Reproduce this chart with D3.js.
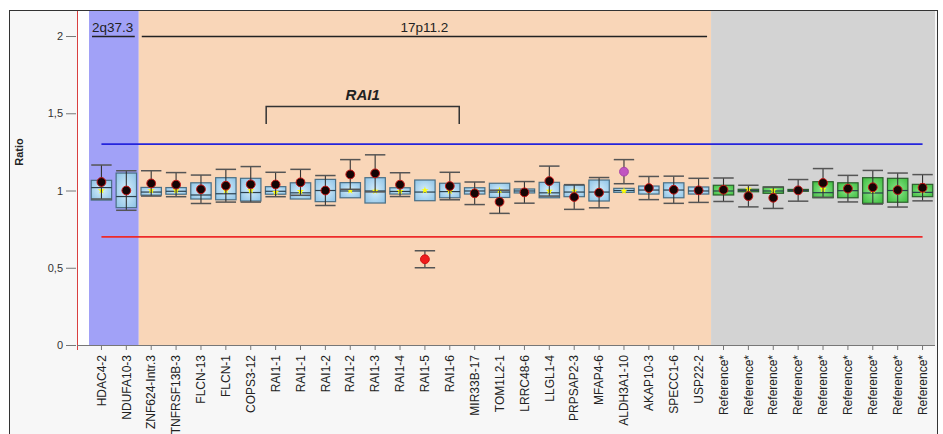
<!DOCTYPE html>
<html>
<head>
<meta charset="utf-8">
<script src="https://cdn.jsdelivr.net/npm/d3@7"></script>
<style>
  html, body { margin: 0; padding: 0; background: #fff; }
  svg { display: block; font-family: "Liberation Sans", Arial, sans-serif; }
</style>
</head>
<body>
<div id="chart"></div>
<script>
// probe names, left to right
const categories = [
  "HDAC4-2", "NDUFA10-3", "ZNF624-Intr.3", "TNFRSF13B-3", "FLCN-13", "FLCN-1", "COPS3-12",
  "RAI1-1", "RAI1-1", "RAI1-2", "RAI1-2", "RAI1-3", "RAI1-4", "RAI1-5", "RAI1-6",
  "MIR33B-17", "TOM1L2-1", "LRRC48-6", "LLGL1-4", "PRPSAP2-3", "MFAP4-6", "ALDH3A1-10",
  "AKAP10-3", "SPECC1-6", "USP22-2",
  "Reference*", "Reference*", "Reference*", "Reference*", "Reference*", "Reference*",
  "Reference*", "Reference*", "Reference*"
];

// patient ratio (dot) and its +/- error bar
const ratio = [1.055, 1.0, 1.046, 1.038, 1.008, 1.031, 1.040, 1.039, 1.053, 1.0, 1.104, 1.111, 1.038, 0.555, 1.029,
  0.982, 0.927, 0.988, 1.061, 0.958, 0.986, 1.122, 1.016, 1.005, 1.001,
  1.005, 0.964, 0.953, 1.001, 1.049, 1.012, 1.021, 1.003, 1.018];
const ratioErr = [0.11, 0.128, 0.082, 0.078, 0.092, 0.106, 0.115, 0.079, 0.084, 0.097, 0.096, 0.12, 0.077, 0.055, 0.089,
  0.073, 0.075, 0.070, 0.097, 0.080, 0.098, 0.078, 0.075, 0.088, 0.078,
  0.076, 0.070, 0.069, 0.070, 0.093, 0.086, 0.109, 0.110, 0.085];

// control distribution (box) and control mean (yellow)
const q1 = [0.938, 0.889, 0.97, 0.976, 0.945, 0.94, 0.932, 0.976, 0.945, 0.928, 0.953, 0.919, 0.977, 0.934, 0.953,
  0.977, 0.955, 0.984, 0.953, 0.96, 0.932, 0.988, 0.977, 0.953, 0.977,
  0.971, 0.992, 0.982, 0.995, 0.953, 0.953, 0.917, 0.924, 0.96];
const median = [1.019, 0.961, 0.99, 0.995, 0.971, 0.979, 0.987, 0.995, 0.985, 1.0, 0.997, 0.997, 0.994, 0.990, 0.993,
  0.997, 0.99, 0.997, 0.985, 0.99, 0.99, 1.0, 1.003, 1.003, 0.997,
  0.997, 1.0, 0.997, 1.0, 0.986, 0.999, 0.984, 1.0, 0.988];
const q3 = [1.066, 1.113, 1.02, 1.019, 1.05, 1.083, 1.079, 1.025, 1.05, 1.072, 1.051, 1.083, 1.018, 1.068, 1.047,
  1.018, 1.047, 1.010, 1.053, 1.034, 1.068, 1.014, 1.029, 1.050, 1.023,
  1.034, 1.008, 1.023, 1.007, 1.057, 1.050, 1.083, 1.079, 1.040];
const ctrlMean = [1.0, 1.0, 1.0, 1.0, 1.0, 1.0, 1.0, 0.99, 0.995, 1.0, 1.0, 0.997, 0.996, 1.001, 0.996,
  0.999, 1.0, 1.0, 0.997, 0.998, 1.0, 0.997, 1.0, 1.0, 1.0,
  1.0, 1.01, 1.0, 1.0, 1.008, 1.0, 1.0, 1.0, 1.0];

// dot status: n = normal, del = deletion, up = raised
const status = ["n", "n", "n", "n", "n", "n", "n", "n", "n", "n", "n", "n", "n", "del", "n",
  "n", "n", "n", "n", "n", "n", "up", "n", "n", "n",
  "n", "n", "n", "n", "n", "n", "n", "n", "n"];

// chromosome regions (index ranges into categories)
const regionNames = ["2q37.3", "17p11.2", ""];
const regionStart = [0, 2, 25];
const regionEnd = [1, 24, 33];

const thresholds = [1.3, 0.7];
const yTicks = [0, 0.5, 1, 1.5, 2];

// gene bracket
const geneName = "RAI1";
const geneStart = 7;
const geneEnd = 14;

const W = 943, H = 434;
const plot = {left: 77, right: 935, top: 11, bottom: 345};

const svg = d3.select("#chart").append("svg")
  .attr("width", W)
  .attr("height", H);

const defs = svg.append("defs");
const gradBlue = defs.append("radialGradient").attr("id", "gBlue").attr("r", "0.7");
gradBlue.append("stop").attr("offset", "0%").attr("stop-color", "#d6eefb");
gradBlue.append("stop").attr("offset", "100%").attr("stop-color", "#8cc2e6");
const gradGreen = defs.append("radialGradient").attr("id", "gGreen").attr("r", "0.7");
gradGreen.append("stop").attr("offset", "0%").attr("stop-color", "#8fe78f");
gradGreen.append("stop").attr("offset", "100%").attr("stop-color", "#3cbc3c");

// frame
svg.append("rect")
  .attr("x", 9.5).attr("y", 10.5)
  .attr("width", 928).attr("height", 440)
  .attr("fill", "#f7f7f7")
  .attr("stroke", "#333");

svg.append("rect")
  .attr("x", plot.left).attr("y", plot.top)
  .attr("width", plot.right - plot.left).attr("height", plot.bottom - plot.top)
  .attr("fill", "#fff");

const x = d3.scaleBand()
  .domain(d3.range(categories.length))
  .range([89, plot.right])
  .padding(0);

const y = d3.scaleLinear()
  .domain([0, 2.162])
  .range([plot.bottom, plot.top]);

const bw = x.bandwidth();
const cx = i => x(i) + bw / 2;
const boxW = bw * 0.82;

const regionColors = ["#a1a1f7", "#f9d6b8", "#d3d3d3"];

// region backgrounds
svg.selectAll(".region")
  .data(regionNames)
  .enter().append("rect")
    .attr("class", "region")
    .attr("x", (d, i) => x(regionStart[i]))
    .attr("width", (d, i) => x(regionEnd[i]) + bw - x(regionStart[i]))
    .attr("y", plot.top)
    .attr("height", plot.bottom - plot.top)
    .attr("fill", (d, i) => regionColors[i]);

// region labels + lines
regionNames.forEach((name, i) => {
  if (!name) return;
  const x0 = x(regionStart[i]) + 3;
  const x1 = x(regionEnd[i]) + bw - 4;
  svg.append("line")
    .attr("x1", x0).attr("x2", x1)
    .attr("y1", 36.5).attr("y2", 36.5)
    .attr("stroke", "#222")
    .attr("stroke-width", 1.5);
  svg.append("text")
    .attr("x", i === 0 ? x0 : (x0 + x1) / 2)
    .attr("y", 32)
    .attr("text-anchor", i === 0 ? "start" : "middle")
    .attr("font-size", 13.5)
    .attr("fill", "#222")
    .text(name);
});

// gene bracket
const gx0 = x(geneStart) + 3, gx1 = x(geneEnd) + bw - 3;
svg.append("path")
  .attr("d", `M${gx0},124V106.5H${gx1}V124`)
  .attr("fill", "none")
  .attr("stroke", "#333")
  .attr("stroke-width", 1.5);
svg.append("text")
  .attr("x", (gx0 + gx1) / 2)
  .attr("y", 100)
  .attr("text-anchor", "middle")
  .attr("font-size", 15)
  .attr("font-weight", "bold")
  .attr("font-style", "italic")
  .attr("fill", "#222")
  .text(geneName);

// threshold lines
svg.selectAll(".thr")
  .data(thresholds)
  .enter().append("line")
    .attr("class", "thr")
    .attr("x1", cx(0)).attr("x2", cx(categories.length - 1))
    .attr("y1", d => y(d)).attr("y2", d => y(d))
    .attr("stroke", d => d > 1 ? "#2424dc" : "#ee2a2a")
    .attr("stroke-width", 1.6);

// boxes
const g = svg.selectAll(".probe")
  .data(categories)
  .enter().append("g")
    .attr("class", "probe");

g.append("rect")
  .attr("x", (d, i) => cx(i) - boxW / 2)
  .attr("width", boxW)
  .attr("y", (d, i) => y(q3[i]))
  .attr("height", (d, i) => Math.max(1, y(q1[i]) - y(q3[i])))
  .attr("fill", (d, i) => i >= regionStart[2] ? "url(#gGreen)" : "url(#gBlue)")
  .attr("stroke", (d, i) => i >= regionStart[2] ? "#2d5e2d" : "#4b6f84")
  .attr("stroke-width", 1.2);

g.append("line")
  .attr("x1", (d, i) => cx(i) - boxW / 2).attr("x2", (d, i) => cx(i) + boxW / 2)
  .attr("y1", (d, i) => y(median[i])).attr("y2", (d, i) => y(median[i]))
  .attr("stroke", "#2a3f4c")
  .attr("stroke-width", 1.2);

g.append("path")
  .attr("d", d3.symbol().type(d3.symbolStar).size(16))
  .attr("transform", (d, i) => `translate(${cx(i)},${y(ctrlMean[i])})`)
  .attr("fill", "#ffff00");

// error bars
g.append("line")
  .attr("x1", (d, i) => cx(i)).attr("x2", (d, i) => cx(i))
  .attr("y1", (d, i) => y(ratio[i] + ratioErr[i]))
  .attr("y2", (d, i) => y(ratio[i] - ratioErr[i]))
  .attr("stroke", "#333")
  .attr("stroke-width", 1.1);

[1, -1].forEach(s => {
  g.append("line")
    .attr("x1", (d, i) => cx(i) - boxW / 2).attr("x2", (d, i) => cx(i) + boxW / 2)
    .attr("y1", (d, i) => y(ratio[i] + s * ratioErr[i]))
    .attr("y2", (d, i) => y(ratio[i] + s * ratioErr[i]))
    .attr("stroke", "#555")
    .attr("stroke-width", 1.5);
});

g.append("circle")
  .attr("cx", (d, i) => cx(i))
  .attr("cy", (d, i) => y(ratio[i]))
  .attr("r", 4.4)
  .attr("fill", (d, i) => status[i] === "del" ? "#ee1c1c" : status[i] === "up" ? "#c155c1" : "#150505")
  .attr("stroke", (d, i) => status[i] === "del" ? "#d01010" : status[i] === "up" ? "#a844a8" : "#c81818")
  .attr("stroke-width", 1);

// y axis
const yAxis = svg.append("g")
  .attr("transform", `translate(${plot.left - 1},0)`)
  .call(d3.axisLeft(y)
    .tickValues(yTicks)
    .tickSize(10)
    .tickPadding(3)
    .tickFormat(d => String(d).replace(".", ",")));
yAxis.select(".domain").remove();
yAxis.selectAll(".tick line").attr("stroke", "#777");
yAxis.selectAll(".tick text")
  .attr("font-size", 11)
  .attr("font-family", "Liberation Sans, Arial, sans-serif")
  .attr("fill", "#333");

svg.append("line")
  .attr("x1", plot.left + 0.5).attr("x2", plot.left + 0.5)
  .attr("y1", plot.top).attr("y2", plot.bottom + 5)
  .attr("stroke", "#d94040")
  .attr("stroke-width", 1);

svg.append("text")
  .attr("transform", "translate(23,152) rotate(-90)")
  .attr("text-anchor", "middle")
  .attr("font-size", 11)
  .attr("font-weight", "bold")
  .attr("fill", "#222")
  .text("Ratio");

// x axis
const xAxis = svg.append("g")
  .attr("transform", `translate(0,${plot.bottom})`)
  .call(d3.axisBottom(x)
    .tickSize(5)
    .tickFormat(i => categories[i]));
xAxis.select(".domain").remove();
xAxis.selectAll(".tick line").attr("stroke", "#777");
xAxis.selectAll(".tick text")
  .attr("font-size", 12)
  .attr("font-family", "Liberation Sans, Arial, sans-serif")
  .attr("fill", "#222")
  .attr("text-anchor", "end")
  .attr("transform", "rotate(-90)")
  .attr("x", -10)
  .attr("y", 0)
  .attr("dy", "0.35em");

svg.append("line")
  .attr("x1", plot.left).attr("x2", plot.right)
  .attr("y1", plot.bottom + 0.5).attr("y2", plot.bottom + 0.5)
  .attr("stroke", "#777");
</script>
</body>
</html>
